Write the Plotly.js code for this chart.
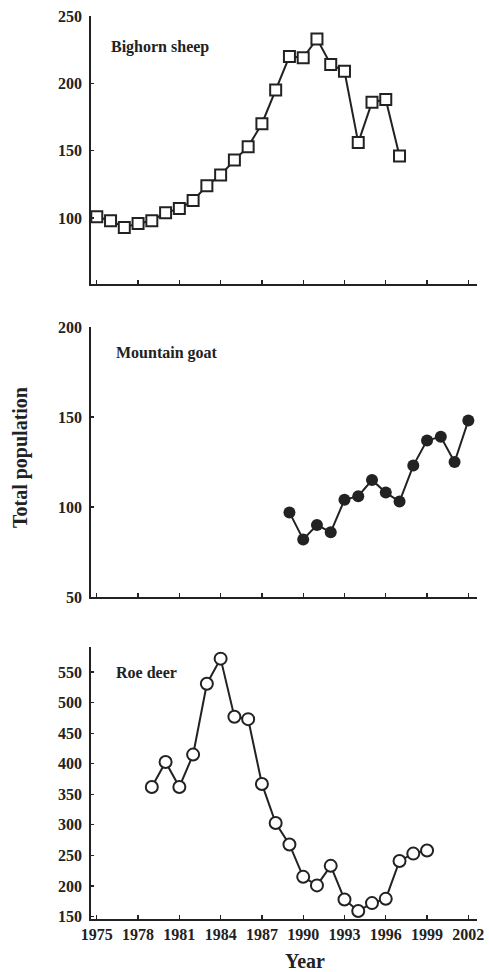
<!DOCTYPE html>
<html>
<head>
<meta charset="utf-8">
<script src="https://cdn.plot.ly/plotly-3.0.1.min.js"></script>
<style>html,body{margin:0;padding:0;background:#fff;}#chart{width:489px;height:972px;}</style>
</head>
<body>
<div id="chart"></div>
<script>
// Data
const sheepYears = [1975,1976,1977,1978,1979,1980,1981,1982,1983,1984,1985,1986,1987,1988,1989,1990,1991,1992,1993,1994,1995,1996,1997];
const sheepPop   = [101,98,93,96,98,104,107,113,124,132,143,153,170,195,220,219,233,214,209,156,186,188,146];

const goatYears = [1989,1990,1991,1992,1993,1994,1995,1996,1997,1998,1999,2000,2001,2002];
const goatPop   = [97,82,90,86,104,106,115,108,103,123,137,139,125,148];

const deerYears = [1979,1980,1981,1982,1983,1984,1985,1986,1987,1988,1989,1990,1991,1992,1993,1994,1995,1996,1997,1998,1999];
const deerPop   = [362,403,362,415,531,572,477,473,367,303,268,215,201,233,178,159,172,179,241,253,258];

const xTicks = [1975,1978,1981,1984,1987,1990,1993,1996,1999,2002];
const sheepTicks = [100,150,200,250];
const goatTicks = [50,100,150,200];
const deerTicks = [150,200,250,300,350,400,450,500,550];

const panelLabels = ["Bighorn sheep","Mountain goat","Roe deer"];
const xTitle = "Year";
const yTitle = "Total population";

const FONT = "Liberation Serif, Times New Roman, serif";
const INK = "#222";

const lineStyle = {color: INK, width: 2};

const traces = [
  {x: sheepYears, y: sheepPop, xaxis: 'x', yaxis: 'y', mode: 'lines+markers', type: 'scatter',
   line: lineStyle, marker: {symbol: 'square', size: 11, color: '#fff', line: {width: 2, color: INK}}, cliponaxis: false},
  {x: goatYears, y: goatPop, xaxis: 'x2', yaxis: 'y2', mode: 'lines+markers', type: 'scatter',
   line: lineStyle, marker: {symbol: 'circle', size: 12, color: INK}, cliponaxis: false},
  {x: deerYears, y: deerPop, xaxis: 'x3', yaxis: 'y3', mode: 'lines+markers', type: 'scatter',
   line: lineStyle, marker: {symbol: 'circle', size: 12, color: '#fff', line: {width: 2, color: INK}}, cliponaxis: false}
];

const xRange = [1974.58, 2002.63];
function xAxis(anchor, labels) {
  return {anchor: anchor, range: xRange, tickvals: xTicks, ticktext: xTicks.map(String),
    showticklabels: labels, ticks: 'inside', ticklen: 4, tickwidth: 1.4, tickcolor: INK,
    showline: true, linecolor: INK, linewidth: 1.8, showgrid: false, zeroline: false,
    tickfont: {family: FONT, size: 16, color: INK, weight: 'bold'}};
}
function yAxis(anchor, domain, range, ticks) {
  return {anchor: anchor, domain: domain, range: range, tickvals: ticks,
    ticks: 'inside', ticklen: 3, tickwidth: 1.2, tickcolor: INK, ticklabelstandoff: 4,
    showline: true, linecolor: INK, linewidth: 1.8, showgrid: false, zeroline: false,
    tickfont: {family: FONT, size: 16, color: INK, weight: 'bold'}};
}

const labelFont = {family: FONT, size: 16, color: INK, weight: 'bold'};

const layout = {
  width: 489, height: 972,
  margin: {l: 91, r: 12, t: 16, b: 53},
  paper_bgcolor: '#fff', plot_bgcolor: '#fff',
  showlegend: false,
  font: {family: FONT, color: INK},
  xaxis: xAxis('y', false),
  xaxis2: xAxis('y2', false),
  xaxis3: xAxis('y3', true),
  yaxis: yAxis('x', [0.7032, 1.0], [51, 250], sheepTicks),
  yaxis2: yAxis('x2', [0.3566, 0.6556], [50, 200], goatTicks),
  yaxis3: yAxis('x3', [0, 0.3012], [146, 591], deerTicks),
  annotations: [
    {text: panelLabels[0], xref: 'paper', yref: 'paper', x: 0.0466, y: 0.9657, xanchor: 'left', yanchor: 'middle', showarrow: false, font: labelFont},
    {text: panelLabels[1], xref: 'paper', yref: 'paper', x: 0.0596, y: 0.6268, xanchor: 'left', yanchor: 'middle', showarrow: false, font: labelFont},
    {text: panelLabels[2], xref: 'paper', yref: 'paper', x: 0.0596, y: 0.2735, xanchor: 'left', yanchor: 'middle', showarrow: false, font: labelFont},
    {text: yTitle, xref: 'paper', yref: 'paper', x: (21 - 91) / 386, y: (919 - 458) / 903, xanchor: 'center', yanchor: 'middle',
     textangle: -90, showarrow: false, font: {family: FONT, size: 20, color: INK, weight: 'bold'}},
    {text: xTitle, xref: 'paper', yref: 'paper', x: (305 - 91) / 386, y: (919 - 961) / 903, xanchor: 'center', yanchor: 'middle',
     showarrow: false, font: {family: FONT, size: 20, color: INK, weight: 'bold'}}
  ]
};

Plotly.newPlot('chart', traces, layout, {displayModeBar: false, staticPlot: true});
</script>
</body>
</html>
